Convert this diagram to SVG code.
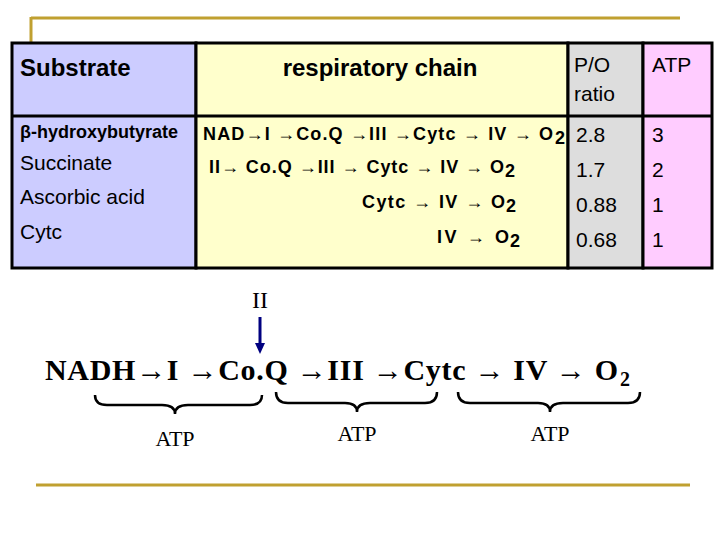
<svg xmlns="http://www.w3.org/2000/svg" width="720" height="540" viewBox="0 0 720 540">
<style>
.h{font-family:"Liberation Sans",Arial,sans-serif;font-weight:bold;font-size:24px;fill:#000}
.s{font-family:"Liberation Sans",Arial,sans-serif;font-size:21px}
.c{font-family:"Liberation Sans",Arial,sans-serif;font-weight:bold;font-size:18px}
.n{font-family:"Liberation Sans",Arial,sans-serif;font-size:21px}
.t{font-family:"Liberation Serif","Times New Roman",serif}
.br{fill:none;stroke:#000;stroke-width:2.5}
.gold{stroke:#c0a030;stroke-width:3}
</style>
<g id="frame">
<line class="gold" x1="31" y1="18" x2="680" y2="18"/>
<line class="gold" x1="31" y1="17" x2="31" y2="44"/>
<line class="gold" x1="36" y1="485" x2="690" y2="485"/>
</g>
<g id="table" stroke="#000" stroke-width="3">
<rect x="12" y="43" width="184" height="225" fill="#ccccff"/>
<rect x="196" y="43" width="372" height="225" fill="#ffffcc"/>
<rect x="568" y="43" width="75" height="225" fill="#dddddd"/>
<rect x="643" y="43" width="69" height="225" fill="#ffccff"/>
<line x1="12" y1="116" x2="712" y2="116"/>
</g>
<g id="texts">
<text class="h" x="20" y="76">Substrate</text>
<text class="h" x="380" y="76" text-anchor="middle">respiratory chain</text>
<text class="n" x="574" y="72">P/O</text>
<text class="n" x="574" y="101">ratio</text>
<text class="n" x="652" y="72">ATP</text>
<text class="c" x="20" y="138" font-size="15">β-hydroxybutyrate</text>
<text class="s" x="20" y="170">Succinate</text>
<text class="s" x="20" y="204">Ascorbic acid</text>
<text class="s" x="20" y="239">Cytc</text>
<text class="c" x="203" y="140" textLength="350" lengthAdjust="spacing">NAD→I →Co.Q →III →Cytc → IV →  O</text><text class="c" x="555" y="144" font-size="12">2</text>
<text class="c" x="209" y="173" textLength="295" lengthAdjust="spacing">II→ Co.Q →III → Cytc → IV → O</text><text class="c" x="505" y="177" font-size="12">2</text>
<text class="c" x="362" y="208" textLength="143" lengthAdjust="spacing">Cytc → IV → O</text><text class="c" x="506" y="212" font-size="12">2</text>
<text class="c" x="437" y="243" textLength="72" lengthAdjust="spacing">IV → O</text><text class="c" x="510" y="247" font-size="12">2</text>
<text class="n" x="576" y="142">2.8</text>
<text class="n" x="576" y="177">1.7</text>
<text class="n" x="576" y="212">0.88</text>
<text class="n" x="576" y="247">0.68</text>
<text class="n" x="652" y="142">3</text>
<text class="n" x="652" y="177">2</text>
<text class="n" x="652" y="212">1</text>
<text class="n" x="652" y="247">1</text>
</g>
<g id="chain">
<text class="t" x="252" y="308" font-size="24">II</text>
<text class="t" x="45" y="380" font-size="30" font-weight="bold" textLength="573" lengthAdjust="spacing">NADH→I →Co.Q →III →Cytc → IV → O</text><text class="t" x="620" y="386" font-size="20" font-weight="bold">2</text>
<text class="t" x="175" y="446" font-size="22" text-anchor="middle">ATP</text>
<text class="t" x="357" y="441" font-size="22" text-anchor="middle">ATP</text>
<text class="t" x="550" y="441" font-size="22" text-anchor="middle">ATP</text>
</g>
<g id="connectors">
<line x1="260" y1="317" x2="260" y2="344" stroke="#000080" stroke-width="3"/>
<polygon points="255,343 265,343 260,354" fill="#000080"/>
<path class="br" d="M95,395 Q95,405 107,405 L162,405 Q175,405 175,414 Q175,405 188,405 L250,405 Q262,405 262,395"/>
<path class="br" d="M276,392 Q276,403 288,403 L345,403 Q357,403 357,412 Q357,403 370,403 L425,403 Q437,403 437,392"/>
<path class="br" d="M458,392 Q458,403 470,403 L538,403 Q550,403 550,412 Q550,403 563,403 L628,403 Q640,403 640,392"/>
</g>
</svg>
